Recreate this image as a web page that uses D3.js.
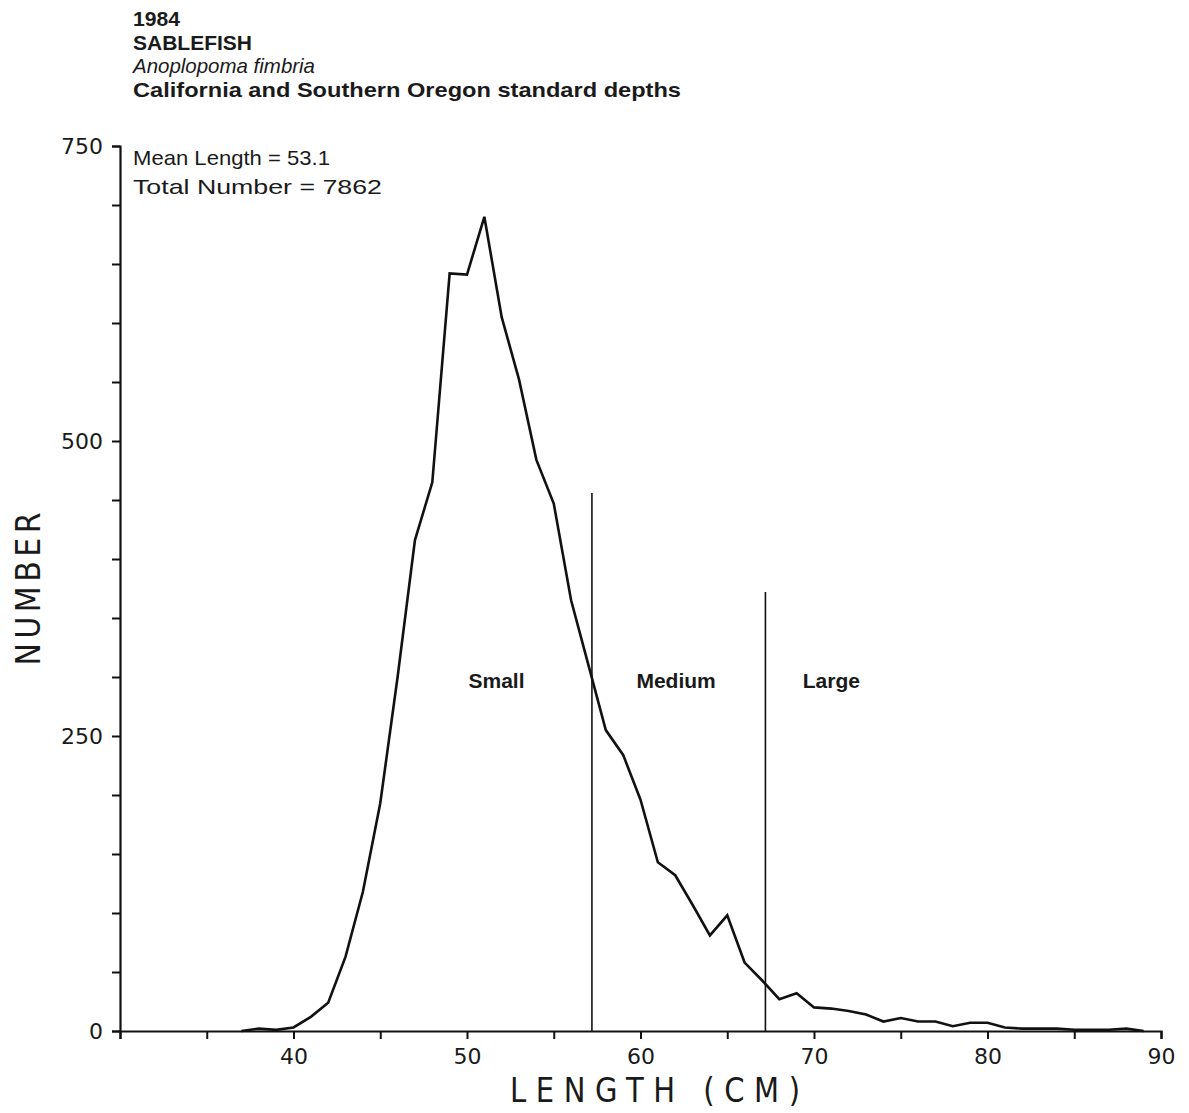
<!DOCTYPE html>
<html>
<head>
<meta charset="utf-8">
<script src="https://cdn.jsdelivr.net/npm/d3@7"></script>
<style>
  html, body { margin: 0; padding: 0; background: #fff; }
  svg { display: block; }
</style>
</head>
<body>
<svg id="chart" width="1189" height="1113"></svg>
<script>
// Length-frequency data: sablefish, 1984 survey
const lengths = [37, 38, 39, 40, 41, 42, 43, 44, 45, 46, 47, 48, 49, 50, 51, 52, 53, 54, 55, 56,
                 57, 58, 59, 60, 61, 62, 63, 64, 65, 66, 67, 68, 69, 70, 71, 72, 73, 74, 75, 76,
                 77, 78, 79, 80, 81, 82, 83, 84, 85, 86, 87, 88, 89];
const counts  = [0, 2, 1, 3, 12, 24, 63, 118, 193, 300, 416, 465, 642, 641, 690, 605, 552, 484, 447, 365,
                 310, 255, 234, 196, 143, 132, 107, 81, 98, 58, 43, 27, 32, 20, 19, 17, 14, 8, 11, 8,
                 8, 4, 7, 7, 3, 2, 2, 2, 1, 1, 1, 2, 0];

// Size-class boundaries and the heights of their marker lines
const classBreaks = [57.2, 67.2];
const breakHeights = [456, 372];
const classNames = ["Small", "Medium", "Large"];
const classLabelAt = [51.7, 62.05, 71.0];

const xTicks = [30, 35, 40, 45, 50, 55, 60, 65, 70, 75, 80, 85, 90];
const yTicks = [0, 50, 100, 150, 200, 250, 300, 350, 400, 450, 500, 550, 600, 650, 700, 750];
const yLabelled = [0, 250, 500, 750];
const xLabelled = [40, 50, 60, 70, 80, 90];

const titleLines = ["1984", "SABLEFISH", "Anoplopoma fimbria", "California and Southern Oregon standard depths"];
const statLines = ["Mean Length = 53.1", "Total Number = 7862"];

const svg = d3.select("#chart");

const x = d3.scaleLinear().domain([30, 90]).range([120, 1161]);
const y = d3.scaleLinear().domain([0, 750]).range([1031, 146]);

const sans = "'Liberation Sans', Arial, Helvetica, sans-serif";
const plot = "'DejaVu Sans', Verdana, sans-serif";

// Title block
const titleStyle = [
  { weight: "bold", style: "normal", base: 26, len: 47 },
  { weight: "bold", style: "normal", base: 50, len: 119 },
  { weight: "normal", style: "italic", base: 73, len: 182 },
  { weight: "bold", style: "normal", base: 97, len: 548 }
];
svg.append("g").selectAll("text")
  .data(titleLines)
  .join("text")
  .attr("x", 133)
  .attr("y", (d, i) => titleStyle[i].base)
  .attr("font-family", sans)
  .attr("font-size", 21)
  .attr("font-weight", (d, i) => titleStyle[i].weight)
  .attr("font-style", (d, i) => titleStyle[i].style)
  .attr("textLength", (d, i) => titleStyle[i].len)
  .attr("lengthAdjust", "spacingAndGlyphs")
  .attr("fill", "#1a1a1a")
  .text(d => d);

// Summary statistics
const statLen = [197, 249];
svg.append("g").selectAll("text")
  .data(statLines)
  .join("text")
  .attr("x", 133)
  .attr("y", (d, i) => 165 + i * 29)
  .attr("font-family", sans)
  .attr("font-size", 21)
  .attr("textLength", (d, i) => statLen[i])
  .attr("lengthAdjust", "spacingAndGlyphs")
  .attr("fill", "#1a1a1a")
  .text(d => d);

// Axes
const yAxis = d3.axisLeft(y)
  .tickValues(yTicks)
  .tickSize(8)
  .tickPadding(9)
  .tickFormat(d => yLabelled.includes(d) ? d : "");
const gy = svg.append("g").attr("transform", `translate(${x(30)},0)`).call(yAxis);

const xAxis = d3.axisBottom(x)
  .tickValues(xTicks)
  .tickSize(8)
  .tickPadding(9)
  .tickFormat(d => xLabelled.includes(d) ? d : "");
const gx = svg.append("g").attr("transform", `translate(0,${y(0)})`).call(xAxis);

[gx, gy].forEach(g => {
  g.select(".domain").attr("stroke", "#111").attr("stroke-width", 2.2);
  g.selectAll(".tick line").attr("stroke", "#111").attr("stroke-width", 2);
  g.selectAll(".tick text")
    .attr("font-family", plot)
    .attr("font-size", 22)
    .attr("fill", "#1a1a1a");
});

// Axis titles: narrow plotter-style lettering with wide spacing
const squeeze = 0.88;
svg.append("text")
  .attr("transform", `translate(40,589) rotate(-90) scale(${squeeze},1)`)
  .attr("text-anchor", "middle")
  .attr("font-family", plot)
  .attr("font-size", 34)
  .attr("textLength", 153 / squeeze)
  .attr("lengthAdjust", "spacing")
  .attr("fill", "#1a1a1a")
  .text("NUMBER");

svg.append("text")
  .attr("transform", `translate(655,1102) scale(${squeeze},1)`)
  .attr("text-anchor", "middle")
  .attr("font-family", plot)
  .attr("font-size", 33)
  .attr("textLength", 290 / squeeze)
  .attr("lengthAdjust", "spacing")
  .attr("fill", "#1a1a1a")
  .text("LENGTH (CM)");

// Size-class dividers
svg.append("g").selectAll("line")
  .data(classBreaks)
  .join("line")
  .attr("x1", d => x(d))
  .attr("x2", d => x(d))
  .attr("y1", (d, i) => y(breakHeights[i]))
  .attr("y2", y(0))
  .attr("stroke", "#111")
  .attr("stroke-width", 1.6);

svg.append("g").selectAll("text")
  .data(classNames)
  .join("text")
  .attr("x", (d, i) => x(classLabelAt[i]))
  .attr("y", 688)
  .attr("text-anchor", "middle")
  .attr("font-family", sans)
  .attr("font-weight", "bold")
  .attr("font-size", 21)
  .attr("fill", "#1a1a1a")
  .text(d => d);

// Frequency polygon
const line = d3.line()
  .x((d, i) => x(lengths[i]))
  .y(d => y(d));

svg.append("path")
  .datum(counts)
  .attr("fill", "none")
  .attr("stroke", "#111")
  .attr("stroke-width", 2.6)
  .attr("stroke-linejoin", "miter")
  .attr("d", line);
</script>
</body>
</html>
